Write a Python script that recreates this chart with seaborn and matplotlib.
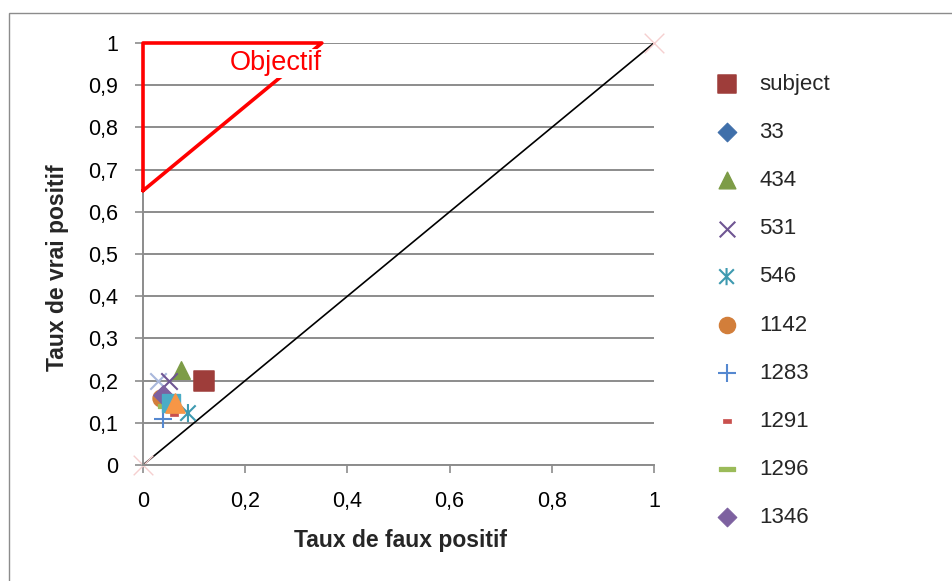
import numpy as np
import pandas as pd
import seaborn as sns
import matplotlib.pyplot as plt
from matplotlib.path import Path
from matplotlib.patches import Rectangle

# ROC points per classifier
series_names = ['subject', '33', '434', '531', '546', '1142', '1283', '1291', '1296', '1346']
fpr = [0.12, 0.05, 0.075, 0.05, 0.088, 0.035, 0.04, 0.06, 0.045, 0.04]
tpr = [0.20, 0.15, 0.225, 0.20, 0.123, 0.158, 0.11, 0.122, 0.14, 0.165]

# extra series visible in the plot but not in the legend
extra_fpr = [0.03, 0.055, 0.062]
extra_tpr = [0.20, 0.148, 0.147]

# diagonal reference + target zone
diag_x = [0, 1]
diag_y = [0, 1]
obj_x = [0, 0, 0.35, 0]
obj_y = [0.65, 1, 1, 0.65]

xticks = [0, 0.2, 0.4, 0.6, 0.8, 1]
xtick_labels = ['0', '0,2', '0,4', '0,6', '0,8', '1']
yticks = [0, 0.1, 0.2, 0.3, 0.4, 0.5, 0.6, 0.7, 0.8, 0.9, 1]
ytick_labels = ['0', '0,1', '0,2', '0,3', '0,4', '0,5', '0,6', '0,7', '0,8', '0,9', '1']

sns.set_theme(style='white')
plt.rcParams['font.family'] = ['Liberation Sans', 'DejaVu Sans']

# custom marker shapes (Excel-like star and dashes)
star = Path([(0, -1), (0, 1), (-0.85, -0.85), (0.85, 0.85), (-0.85, 0.85), (0.85, -0.85)],
            [Path.MOVETO, Path.LINETO] * 3)
def dash(h):
    return Path([(-1, -h), (1, -h), (1, h), (-1, h), (-1, -h)],
                [Path.MOVETO, Path.LINETO, Path.LINETO, Path.LINETO, Path.CLOSEPOLY])

styles = {
    'subject': dict(marker='s', color='#9E3D3A', s=190),
    '33': dict(marker='D', color='#3F6FAA', s=100),
    '434': dict(marker='^', color='#7D9C47', s=160),
    '531': dict(marker='x', color='#6F5593', s=140, linewidth=1.5),
    '546': dict(marker=star, color='#3E9AB0', s=170, linewidth=1.5, facecolor='none'),
    '1142': dict(marker='o', color='#D27E3A', s=150),
    '1283': dict(marker='+', color='#5588D0', s=170, linewidth=1.5),
    '1291': dict(marker=dash(0.55), color='#C9504D', s=40),
    '1296': dict(marker=dash(0.3), color='#9BBB59', s=130),
    '1346': dict(marker='D', color='#7D61A0', s=100),
}

fig = plt.figure(figsize=(9.52, 5.81), dpi=100)
ax = fig.add_axes([143 / 952, 1 - 465 / 581, 511 / 952, 422 / 581])

for y in yticks:
    ax.axhline(y, color='#8C8C8C', lw=1.4, zorder=0)

sns.lineplot(x=diag_x, y=diag_y, color='black', lw=1.2, sort=False, estimator=None,
             ax=ax, zorder=2)
sns.scatterplot(x=diag_x, y=diag_y, marker='x', color='#F5CFCF', s=200, linewidth=1.0,
                ax=ax, clip_on=False, zorder=2)

sns.scatterplot(x=[extra_fpr[0]], y=[extra_tpr[0]], marker='x', color='#A9B8DC', s=140,
                linewidth=1.5, ax=ax, zorder=3)

for name, x, y in zip(series_names, fpr, tpr):
    st = dict(styles[name])
    c = st.pop('color')
    if st['marker'] in ('x', '+'):
        sns.scatterplot(x=[x], y=[y], color=c, label=name, ax=ax, zorder=3, **st)
    else:
        fc = st.pop('facecolor', c)
        sns.scatterplot(x=[x], y=[y], facecolor=fc, edgecolor=c, label=name, ax=ax,
                        zorder=3, **st)

sns.scatterplot(x=[extra_fpr[1]], y=[extra_tpr[1]], marker='s', color='#4BACC6',
                edgecolor='#4BACC6', s=150, ax=ax, zorder=4)
sns.scatterplot(x=[extra_fpr[2]], y=[extra_tpr[2]], marker='^', color='#F79646',
                edgecolor='#F79646', s=190, ax=ax, zorder=4)

# target zone
sns.lineplot(x=obj_x, y=obj_y, color='#FF0000', lw=2.6, sort=False, estimator=None,
             ax=ax, zorder=5, clip_on=False)
ax.text(0.259, 0.952, 'Objectif', color='#FF0000', fontsize=19.5, ha='center', va='center',
        zorder=6, bbox=dict(facecolor='white', edgecolor='none', pad=1))

ax.set_xlim(0, 1)
ax.set_ylim(0, 1)
ax.set_xticks(xticks)
ax.set_xticklabels(xtick_labels)
ax.set_yticks(yticks)
ax.set_yticklabels(ytick_labels)
ax.tick_params(axis='both', labelsize=15.5, colors='#8C8C8C', labelcolor='black',
               length=6, width=1.2, direction='out')
ax.tick_params(axis='x', pad=13, bottom=True)
ax.tick_params(axis='y', pad=12, left=True)
for side in ['top', 'right']:
    ax.spines[side].set_visible(False)
for side in ['left', 'bottom']:
    ax.spines[side].set_color('#8C8C8C')
    ax.spines[side].set_linewidth(1.4)

ax.set_xlabel('Taux de faux positif', fontsize=16.5, fontweight='bold')
ax.set_ylabel('Taux de vrai positif', fontsize=16.5, fontweight='bold')
ax.xaxis.set_label_coords((400 - 143) / 511, (465 - 529) / 422)
ax.yaxis.set_label_coords((69 - 143) / 511, (465 - 268) / 422)

ax.legend(loc='upper left', bbox_to_anchor=(716 / 952, 1 - 74 / 581),
          bbox_transform=fig.transFigure, frameon=False, fontsize=16,
          borderpad=0, borderaxespad=0, handlelength=0.95, handletextpad=1.0,
          labelspacing=1.22, scatterpoints=1, markerscale=0.95)

# chart area border
fig.patches.append(Rectangle((9 / 952, -0.1), 1.2, 1 - 13 / 581 + 0.1,
                             transform=fig.transFigure, fill=False,
                             edgecolor='#8C8C8C', lw=1.0))

plt.savefig('out.png', dpi=100)
plt.close()
